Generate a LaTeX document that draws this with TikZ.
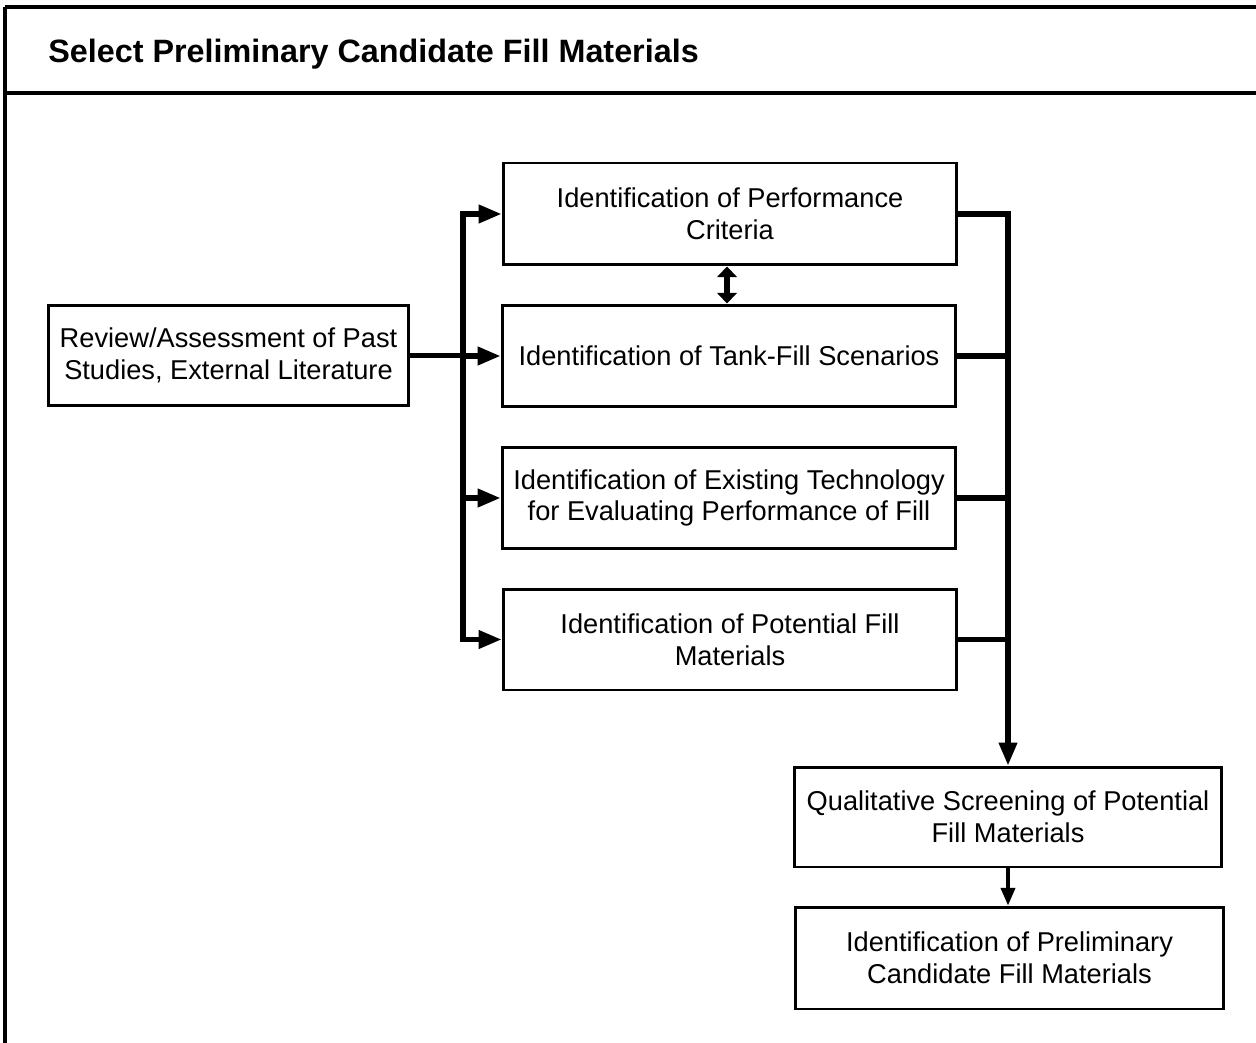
\documentclass[tikz,border=0pt]{standalone}
\usepackage{fontspec}
\setmainfont{Liberation Sans}
\usetikzlibrary{arrows.meta}
\begin{document}
\begin{tikzpicture}[x=0.02cm,y=-0.02cm,
  box/.style={draw, line width=1.7pt, align=center, inner sep=0pt,
    font=\fontsize{15.5}{18.1}\selectfont},
  conn/.style={line width=2.9pt},
  arr/.style={conn, -{Triangle[length=13pt,width=10pt]}},
  frame/.style={line width=2pt}]
\useasboundingbox (0,0) rectangle (1256,1043);
% outer frame
\draw[line width=2.8pt] (5,7) -- (5,1043);
\draw[frame] (5,7) -- (1256,7);
\draw[frame] (5,93) -- (1256,93);
\node[anchor=base west, inner sep=0pt, font=\fontsize{18.4}{20}\selectfont\bfseries] (title) at (48,63) {Select Preliminary Candidate Fill Materials};
% boxes
\node[box, minimum width=7.22cm, minimum height=2.02cm] (rev) at (228.5,355.5) {Review/Assessment of Past\\Studies, External Literature};
\node[box, minimum width=9.08cm, minimum height=2.04cm] (perf) at (730,214) {Identification of Performance\\Criteria};
\node[box, minimum width=9.08cm, minimum height=2.04cm] (tank) at (729,356) {Identification of Tank-Fill Scenarios};
\node[box, minimum width=9.08cm, minimum height=2.04cm] (exist) at (729,498) {Identification of Existing Technology\\for Evaluating Performance of Fill};
\node[box, minimum width=9.08cm, minimum height=2.02cm] (pot) at (730,639.5) {Identification of Potential Fill\\Materials};
\node[box, minimum width=8.56cm, minimum height=2.0cm] (qual) at (1008,817) {Qualitative Screening of Potential\\Fill Materials};
\node[box, minimum width=8.58cm, minimum height=2.04cm] (prel) at (1009.5,958) {Identification of Preliminary\\Candidate Fill Materials};
% left bus
\coordinate (bl) at (463,356);
\draw[conn] (rev.east) -- (rev.east -| bl);
\draw[conn] ([yshift=1.45pt]bl |- perf.west) -- ([yshift=-1.45pt]bl |- pot.west);
\draw[arr] ([xshift=-1.45pt]bl |- perf.west) -- (perf.west);
\draw[arr] (bl |- tank.west) -- (tank.west);
\draw[arr] (bl |- exist.west) -- (exist.west);
\draw[arr] ([xshift=-1.45pt]bl |- pot.west) -- (pot.west);
% double arrow
\draw[line width=3pt, {Triangle[length=6pt,width=11pt]}-{Triangle[length=6pt,width=11pt]}] (727,0 |- perf.south) -- (727,0 |- tank.north);
% right bus
\draw[conn] (perf.east) -- ([xshift=1.45pt]perf.east -| qual.north);
\draw[conn] (tank.east) -- (tank.east -| qual.north);
\draw[conn] (exist.east) -- (exist.east -| qual.north);
\draw[conn] (pot.east) -- (pot.east -| qual.north);
\draw[arr] ([yshift=1.45pt]perf.east -| qual.north) -- (qual.north);
% qual -> prel
\draw[line width=2pt, -{Triangle[length=10pt,width=8pt]}] (qual.south) -- (qual.south |- prel.north);
\end{tikzpicture}
\end{document}
